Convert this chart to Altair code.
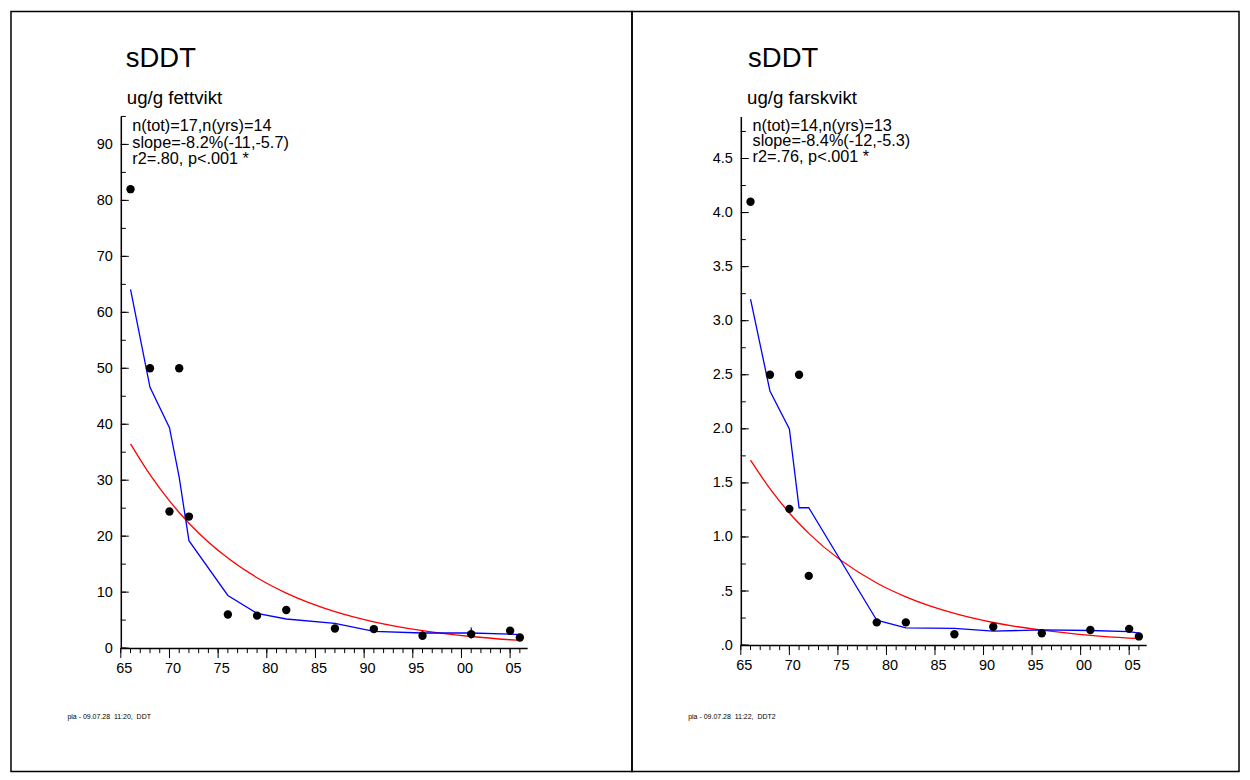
import altair as alt
import pandas as pd

FONT = "Liberation Sans"
NB = "\u00a0"

# ---- sDDT, ug/g fettvikt (lipid weight) ----
fat_years = [1966, 1968, 1970, 1971, 1972, 1976, 1979, 1982, 1987, 1991, 1996, 2001, 2005, 2006]
fat_sddt = [82.0, 50.0, 24.4, 50.0, 23.5, 6.0, 5.8, 6.8, 3.5, 3.4, 2.2, 2.5, 3.1, 1.9]
fat_smooth = [64.1, 46.6, 39.4, 30.5, 19.2, 9.4, 6.2, 5.2, 4.4, 3.0, 2.7, 2.7, 2.5, 2.4]
fat_trend = [36.50, 30.98, 26.29, 24.23, 22.32, 16.08, 12.57, 9.83, 6.52, 4.70, 3.12, 2.07, 1.49, 1.37]
fat_range_years = [1996, 2001]
fat_range_low = [2.0, 1.7]
fat_range_high = [3.0, 3.7]

# ---- sDDT, ug/g farskvikt (fresh weight) ----
fresh_years = [1966, 1968, 1970, 1971, 1972, 1979, 1982, 1987, 1991, 1996, 2001, 2005, 2006]
fresh_sddt = [4.10, 2.50, 1.26, 2.50, 0.64, 0.21, 0.21, 0.10, 0.17, 0.11, 0.14, 0.15, 0.08]
fresh_smooth = [3.20, 2.35, 2.00, 1.27, 1.27, 0.23, 0.16, 0.155, 0.13, 0.14, 0.135, 0.125, 0.11]
fresh_trend = [1.710, 1.446, 1.222, 1.124, 1.033, 0.574, 0.446, 0.293, 0.209, 0.138, 0.0905, 0.0646, 0.0594]

# ---- axis ticks ----
x_major = list(range(1965, 2006, 5))
x_minor = list(range(1965, 2007))
fat_y_major = list(range(0, 91, 10))
fat_y_minor = list(range(0, 96, 5))
fresh_y_major = [i * 0.5 for i in range(0, 10)]
fresh_y_minor = [i * 0.25 for i in range(0, 20)]

X_DOMAIN = [1965, 2006.75]

one_row = pd.DataFrame({"k": [0]})


def text_layer(txt, x, y, size, line_height=None):
    kw = dict(align="left", baseline="alphabetic", font=FONT, fontSize=size,
              color="black", text=txt)
    if line_height is not None:
        kw["lineHeight"] = line_height
    return alt.Chart(one_row).mark_text(**kw).encode(x=alt.value(x), y=alt.value(y))


def panel(years, sddt, smooth, trend, ymax, y_major, y_minor, label_expr,
          unit, stats, stats_pos, stats_lh, footer, frame, w, h, title_pos,
          unit_pos, footer_pos, canvas=None, ranges=None):
    xs = alt.Scale(domain=X_DOMAIN, nice=False, zero=False)
    ys = alt.Scale(domain=[0, ymax], nice=False, zero=True)

    x_axis = alt.Axis(values=x_major, labelExpr="slice(toString(datum.value), 2)",
                      ticks=False, tickSize=0, labelPadding=13, labelFontSize=14.5,
                      labelFont=FONT, labelColor="black", domainColor="black",
                      domainWidth=1.5, grid=False, title="", labelFlush=False,
                      labelOffset=3, orient="bottom")
    y_axis = alt.Axis(values=y_major, labelExpr=label_expr, ticks=False, tickSize=0,
                      labelPadding=8.5, labelFontSize=14.5, labelFont=FONT,
                      labelColor="black", domainColor="black", domainWidth=1.5,
                      grid=False, title="", orient="left")

    def X(field):
        return alt.X(field, scale=xs, axis=x_axis)

    def Y(field):
        return alt.Y(field, scale=ys, axis=y_axis)

    df = pd.DataFrame({"year": years, "sddt": sddt, "smooth": smooth, "trend": trend})

    layers = []
    if canvas is not None:
        layers.append(alt.Chart(one_row).mark_rect(opacity=0).encode(
            x=alt.value(canvas[0]), x2=alt.value(canvas[1]),
            y=alt.value(canvas[2]), y2=alt.value(canvas[3])))
    layers.append(alt.Chart(one_row).mark_rect(fillOpacity=0, stroke="black", strokeWidth=1.5).encode(
        x=alt.value(frame[0]), x2=alt.value(frame[1]),
        y=alt.value(frame[2]), y2=alt.value(frame[3])))

    # tick marks: x ticks point down, y ticks point into the plot
    layers.append(alt.Chart(pd.DataFrame({"year": x_minor})).mark_rule(color="black", strokeWidth=1).encode(
        x=X("year:Q"), y=alt.value(h), y2=alt.value(h + 5)))
    layers.append(alt.Chart(pd.DataFrame({"year": x_major})).mark_rule(color="black", strokeWidth=1).encode(
        x=X("year:Q"), y=alt.value(h), y2=alt.value(h + 10)))
    layers.append(alt.Chart(pd.DataFrame({"v": y_minor})).mark_rule(color="black", strokeWidth=1).encode(
        y=Y("v:Q"), x=alt.value(0), x2=alt.value(5)))
    layers.append(alt.Chart(pd.DataFrame({"v": y_major})).mark_rule(color="black", strokeWidth=1).encode(
        y=Y("v:Q"), x=alt.value(0), x2=alt.value(8)))

    base = alt.Chart(df).encode(x=X("year:Q"))
    layers.append(base.mark_line(color="#ff0000", strokeWidth=1.3, interpolate="monotone").encode(
        y=Y("trend:Q")))
    layers.append(base.mark_line(color="#0000ff", strokeWidth=1.3).encode(
        y=Y("smooth:Q")))
    if ranges is not None:
        rdf = pd.DataFrame({"year": ranges[0], "lo": ranges[1], "hi": ranges[2]})
        layers.append(alt.Chart(rdf).mark_rule(color="black", strokeWidth=1.2).encode(
            x=X("year:Q"), y=Y("lo:Q"), y2="hi:Q"))
    layers.append(base.mark_circle(size=70, color="black", opacity=1).encode(
        y=Y("sddt:Q")))

    layers.append(text_layer("sDDT", title_pos[0], title_pos[1], 27.5))
    layers.append(text_layer(unit, unit_pos[0], unit_pos[1], 18.7))
    layers.append(text_layer(stats, stats_pos[0], stats_pos[1], 16.3, stats_lh))
    layers.append(text_layer(footer, footer_pos[0], footer_pos[1], 7))

    return alt.layer(*layers).properties(width=w, height=h)


left = panel(
    fat_years, fat_sddt, fat_smooth, fat_trend, 95, fat_y_major, fat_y_minor,
    "format(datum.value, 'd')", "ug/g fettvikt",
    ["n(tot)=17,n(yrs)=14", "slope=-8.2%(-11,-5.7)", "r2=.80, p<.001 *"], (11.5, 15), 16.3,
    f"pia - 09.07.28 {NB}11:20, {NB}DDT", (-110, 512, -105, 656), 407, 532.5,
    (5, -50), (6, -12), (-53.5, 604),
    canvas=(-120, 1130, -115, 665),
    ranges=(fat_range_years, fat_range_low, fat_range_high),
)

right = panel(
    fresh_years, fresh_sddt, fresh_smooth, fresh_trend, 4.889, fresh_y_major, fresh_y_minor,
    "datum.value < 1 ? replace(format(datum.value, '.1f'), '0.', '.') : format(datum.value, '.1f')",
    "ug/g farskvikt",
    ["n(tot)=14,n(yrs)=13", "slope=-8.4%(-12,-5.3)", "r2=.76, p<.001 *"], (11.7, 14.3), 15.5,
    f"pia - 09.07.28 {NB}11:22, {NB}DDT2", (-109, 499, -105, 656), 406, 529.5,
    (7.3, -50), (6.3, -12.3), (-52.7, 604),
)

chart = alt.hconcat(left, right, spacing=214, bounds="flush").properties(
    padding=0, background="white"
).configure_view(stroke="transparent")

chart.save("out.html", embed_options={"renderer": "svg", "actions": False})
